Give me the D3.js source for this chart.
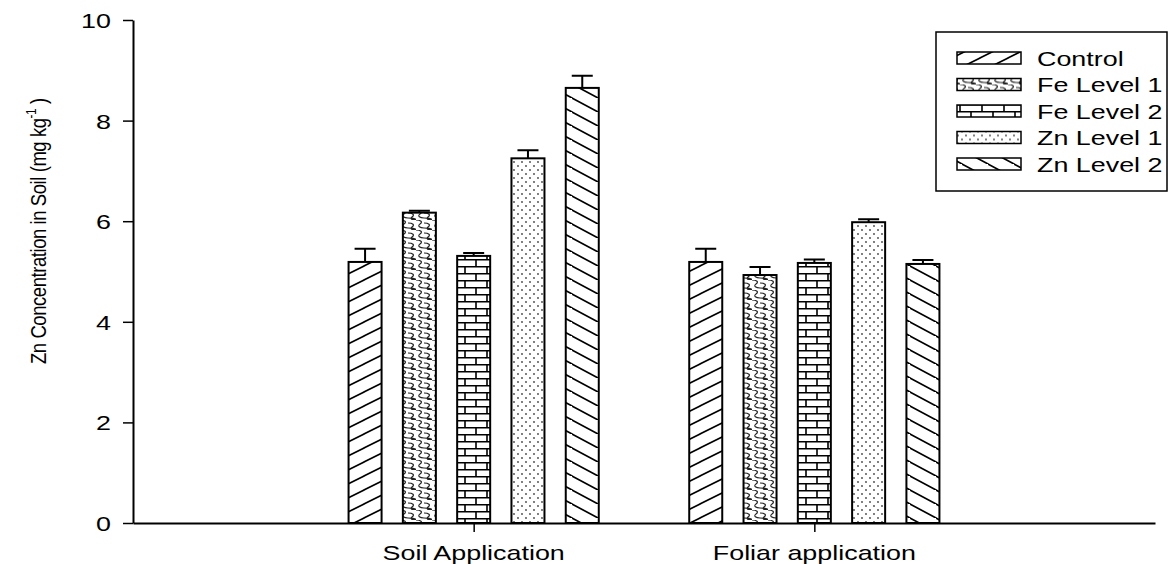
<!DOCTYPE html>
<html>
<head>
<meta charset="utf-8">
<script src="https://cdn.jsdelivr.net/npm/d3@7"></script>
<style>
  body { margin: 0; background: #fff; }
  text { font-family: "Liberation Sans", Arial, sans-serif; }
</style>
</head>
<body>
<div class="bar-chart"></div>
<script>
const groups = ["Soil Application", "Foliar application"];
const series = ["Control", "Fe Level 1", "Fe Level 2", "Zn Level 1", "Zn Level 2"];
const soilValues = [5.19, 6.17, 5.31, 7.25, 8.65];
const soilErrors = [0.26, 0.04, 0.06, 0.16, 0.24];
const foliarValues = [5.19, 4.93, 5.17, 5.98, 5.15];
const foliarErrors = [0.26, 0.16, 0.07, 0.06, 0.08];
const yTicks = [0, 2, 4, 6, 8, 10];

const W = 1170, H = 564;
const sx = 1.28; // text in the original is stretched horizontally

const svg = d3.select('.bar-chart')
    .append('svg')
    .attr("width", W)
    .attr("height", H);

// patterns
const defs = svg.append("defs");
const patternIds = ["p-control", "p-fe1", "p-fe2", "p-zn1", "p-zn2"];

let p = defs.append("pattern").attr("id", "p-control")
    .attr("patternUnits", "userSpaceOnUse").attr("width", 28).attr("height", 14);
p.append("rect").attr("width", 28).attr("height", 14).attr("fill", "#fff");
p.append("path").attr("d", "M0,14 L28,0 M-14,7 L14,-7 M14,21 L42,7")
    .attr("stroke", "#000").attr("stroke-width", 1.6);

// Fe level 1: interlocking wavy hooks
p = defs.append("pattern").attr("id", "p-fe1")
    .attr("patternUnits", "userSpaceOnUse").attr("width", 16).attr("height", 10);
p.append("rect").attr("width", 16).attr("height", 10).attr("fill", "#fff");
p.append("path")
    .attr("d", "M0,0 C5,0 7,2 4,4 C1,6 4,8 8,8 M8,-2 C12,-2 16,-1 16,0 M8,8 C12,8 16,9 16,10 M8,3 C13,3 15,5 12,7 C10,9 12,10 16,10 M-8,3 C-3,3 -1,5 -4,7 C-6,9 -4,10 0,10")
    .attr("fill", "none").attr("stroke", "#222").attr("stroke-width", 1.1);

p = defs.append("pattern").attr("id", "p-fe2")
    .attr("patternUnits", "userSpaceOnUse").attr("width", 22).attr("height", 14);
p.append("rect").attr("width", 22).attr("height", 14).attr("fill", "#fff");
p.append("path")
    .attr("d", "M0,0.75 H22 M0,7.75 H22 M3,0 V7 M14,7 V14")
    .attr("stroke", "#000").attr("stroke-width", 1.6);

p = defs.append("pattern").attr("id", "p-zn1")
    .attr("patternUnits", "userSpaceOnUse").attr("width", 8).attr("height", 8);
p.append("rect").attr("width", 8).attr("height", 8).attr("fill", "#fff");
p.append("circle").attr("cx", 2).attr("cy", 2).attr("r", 0.9).attr("fill", "#444");
p.append("circle").attr("cx", 6).attr("cy", 6).attr("r", 0.9).attr("fill", "#444");

p = defs.append("pattern").attr("id", "p-zn2")
    .attr("patternUnits", "userSpaceOnUse").attr("width", 26).attr("height", 14);
p.append("rect").attr("width", 26).attr("height", 14).attr("fill", "#fff");
p.append("path").attr("d", "M0,0 L26,14 M-13,-7 L13,7 M13,7 L39,21 M-13,7 L13,21")
    .attr("stroke", "#000").attr("stroke-width", 1.6);

// scales
const x = d3.scalePoint()
    .domain(groups)
    .range([133, 1155])
    .padding(1);

const xInner = d3.scaleBand()
    .domain(series)
    .range([-125.1, 125.1])
    .paddingInner(0.392);

const y = d3.scaleLinear()
    .domain([0, 10])
    .range([523, 20]);

const data = [];
groups.forEach((g, gi) => {
    const vals = gi === 0 ? soilValues : foliarValues;
    const errs = gi === 0 ? soilErrors : foliarErrors;
    series.forEach((s, si) => {
        data.push({ group: g, series: s, idx: si, value: vals[si], err: errs[si] });
    });
});

// bars
const bars = svg.append("g");
bars.selectAll(".bar")
    .data(data)
    .enter()
    .append("rect")
    .attr("class", "bar")
    .attr("x", d => x(d.group) + xInner(d.series))
    .attr("y", d => y(d.value))
    .attr("width", xInner.bandwidth())
    .attr("height", d => y(0) - y(d.value))
    .attr("fill", d => "url(#" + patternIds[d.idx] + ")")
    .attr("stroke", "#000")
    .attr("stroke-width", 2);

// error bars (upper only)
const eb = svg.append("g").attr("stroke", "#000").attr("stroke-width", 2);
eb.selectAll(".err")
    .data(data)
    .enter()
    .append("path")
    .attr("d", d => {
        const cx = x(d.group) + xInner(d.series) + xInner.bandwidth() / 2;
        const t = y(d.value + d.err);
        return "M" + cx + "," + y(d.value) + "V" + t + "M" + (cx - 10.5) + "," + t + "H" + (cx + 10.5);
    });

// axes
const yaxis = d3.axisLeft(y).tickValues(yTicks).tickSize(10).tickSizeOuter(0);
const gy = svg.append("g")
    .attr("transform", "translate(133,0)")
    .call(yaxis);
gy.select(".domain").attr("stroke-width", 2);
gy.selectAll(".tick line").attr("stroke-width", 1.5);
gy.selectAll(".tick text")
    .attr("x", 0).attr("dy", "0.36em")
    .attr("transform", "translate(-22,0) scale(" + sx + ",1)")
    .style("font-size", "21px")
    .attr("fill", "#000");

const xaxis = d3.axisBottom(x).tickSize(9).tickSizeOuter(0).tickFormat("");
const gx = svg.append("g")
    .attr("transform", "translate(0,523)")
    .call(xaxis);
gx.select(".domain").attr("stroke-width", 2);
gx.selectAll(".tick line").attr("stroke-width", 1.5);

svg.append("g").selectAll(".xlab")
    .data(groups)
    .enter()
    .append("text")
    .attr("transform", d => "translate(" + x(d) + ",560) scale(" + sx + ",1)")
    .attr("text-anchor", "middle")
    .style("font-size", "21px")
    .text(d => d);

// y label (condensed along its length, like the original)
const yl = svg.append("text")
    .attr("transform", "translate(46,364) scale(1,0.84) rotate(-90)")
    .style("font-size", "22px")
    .style("letter-spacing", "-0.5px");
yl.append("tspan").text("Zn Concentration in Soil (mg kg");
yl.append("tspan").attr("dy", -10).style("font-size", "14px").text("-1");
yl.append("tspan").attr("dy", 10).text(" )");

// legend
const legend = svg.append("g");
legend.append("rect")
    .attr("x", 936).attr("y", 32).attr("width", 231).attr("height", 159)
    .attr("fill", "#fff").attr("stroke", "#000").attr("stroke-width", 1.5);

const rowY = d3.scalePoint().domain(series).range([58, 164]);
const items = legend.selectAll(".item")
    .data(series)
    .enter()
    .append("g")
    .attr("transform", d => "translate(0," + rowY(d) + ")");
items.append("rect")
    .attr("x", 957).attr("y", -6).attr("width", 64).attr("height", 12)
    .attr("fill", (d, i) => "url(#" + patternIds[i] + ")")
    .attr("stroke", "#000").attr("stroke-width", 1.5);
items.append("text")
    .attr("transform", "translate(1037,7.5) scale(" + sx + ",1)")
    .style("font-size", "21px")
    .text(d => d);
</script>
</body>
</html>
